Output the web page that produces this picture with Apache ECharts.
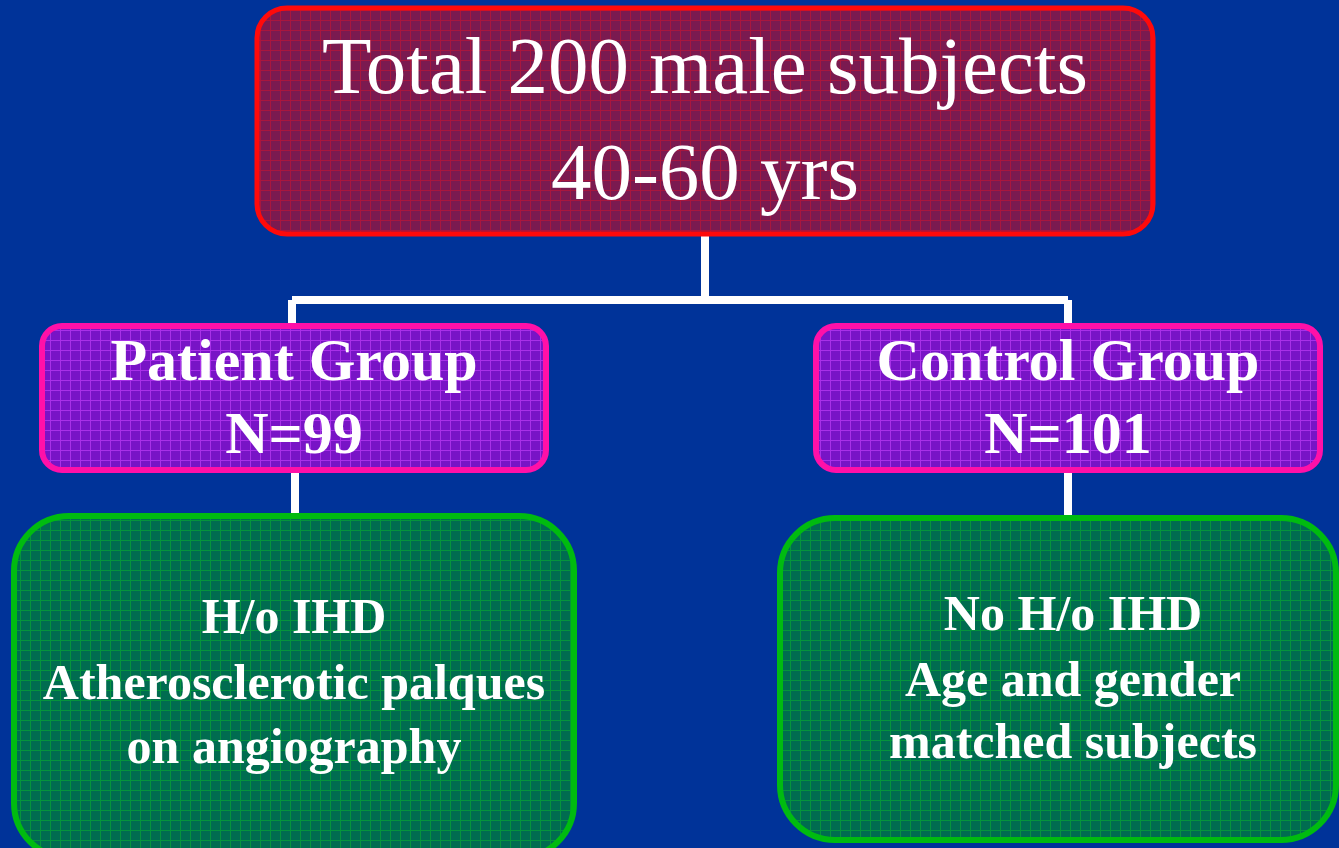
<!DOCTYPE html>
<html>
<head>
<meta charset="utf-8">
<script src="https://cdn.jsdelivr.net/npm/echarts@6/dist/echarts.min.js"></script>
<style>
  html, body { margin: 0; padding: 0; background: #003399; }
  #chart { width: 1339px; height: 848px; }
</style>
</head>
<body>
<div id="chart"></div>
<script>
  // box texts
  const topLines = ['Total 200 male subjects', '40-60 yrs'];
  const groupLines = [['Patient Group', 'N=99'], ['Control Group', 'N=101']];
  const detailLines = [
    ['H/o IHD', 'Atherosclerotic palques', 'on angiography'],
    ['No H/o IHD', 'Age and gender', 'matched subjects']
  ];

  // layout in page units: [x0, y0, x1, y1]
  const boxes = [
    { rect: [257, 8, 1153, 234], r: 30, kind: 'top', lines: topLines, lineY: [72, 178] },
    { rect: [42, 326, 546, 470], r: 20, kind: 'group', lines: groupLines[0], lineY: [364, 437] },
    { rect: [816, 326, 1320, 470], r: 20, kind: 'group', lines: groupLines[1], lineY: [364, 437] },
    { rect: [14, 516, 574, 858], r: 55, kind: 'detail', lines: detailLines[0], lineY: [620, 686, 750], cx: 294 },
    { rect: [780, 518, 1336, 840], r: 55, kind: 'detail', lines: detailLines[1], lineY: [617, 683, 745], cx: 1073 }
  ];
  const links = [
    [[705, 234], [705, 300]],
    [[292, 300], [1068, 300]],
    [[292, 300], [292, 326]],
    [[1068, 300], [1068, 326]],
    [[295, 470], [295, 516]],
    [[1068, 470], [1068, 518]]
  ];

  function gridPattern(bg, line) {
    const c = document.createElement('canvas');
    c.width = 10; c.height = 10;
    const g = c.getContext('2d');
    g.fillStyle = bg; g.fillRect(0, 0, 10, 10);
    g.fillStyle = line; g.fillRect(0, 0, 10, 1); g.fillRect(0, 0, 1, 10);
    return { image: c, repeat: 'repeat' };
  }

  const styles = {
    top: { fill: gridPattern('#7a1a50', '#a8163e'), stroke: '#ff0a0a', lw: 5, font: 'normal 400 81px "Liberation Serif", serif' },
    group: { fill: gridPattern('#7814c6', '#a830e8'), stroke: '#ff10a8', lw: 6, font: 'normal bold 60px "Liberation Serif", serif' },
    detail: { fill: gridPattern('#006c50', '#05943c'), stroke: '#00bb10', lw: 6, font: 'normal bold 50px "Liberation Serif", serif' }
  };

  const chart = echarts.init(document.getElementById('chart'));
  chart.setOption({
    backgroundColor: '#003399',
    animation: false,
    grid: { left: 0, right: 0, top: 0, bottom: 0 },
    xAxis: { type: 'value', min: 0, max: 1339, show: false },
    yAxis: { type: 'value', min: 0, max: 848, inverse: true, show: false },
    series: [
      {
        type: 'custom',
        coordinateSystem: 'cartesian2d',
        data: links.map((l, i) => [i]),
        renderItem: (params, api) => {
          const l = links[params.dataIndex];
          return {
            type: 'polyline',
            shape: { points: l.map(p => api.coord(p)) },
            style: { stroke: '#ffffff', lineWidth: 8, fill: null }
          };
        },
        z: 1
      },
      {
        type: 'custom',
        coordinateSystem: 'cartesian2d',
        data: boxes.map((b, i) => [i]),
        renderItem: (params, api) => {
          const b = boxes[params.dataIndex];
          const s = styles[b.kind];
          const p0 = api.coord([b.rect[0], b.rect[1]]);
          const p1 = api.coord([b.rect[2], b.rect[3]]);
          const cx = api.coord([b.cx || (b.rect[0] + b.rect[2]) / 2, 0])[0];
          const children = [{
            type: 'rect',
            shape: { x: p0[0], y: p0[1], width: p1[0] - p0[0], height: p1[1] - p0[1], r: b.r },
            style: { fill: s.fill, stroke: s.stroke, lineWidth: s.lw }
          }];
          b.lines.forEach((t, k) => {
            children.push({
              type: 'text',
              x: cx,
              y: api.coord([0, b.lineY[k]])[1],
              style: { text: t, font: s.font, fill: '#ffffff', align: 'center', verticalAlign: 'middle' }
            });
          });
          return { type: 'group', children };
        },
        z: 2
      }
    ]
  });
</script>
</body>
</html>
